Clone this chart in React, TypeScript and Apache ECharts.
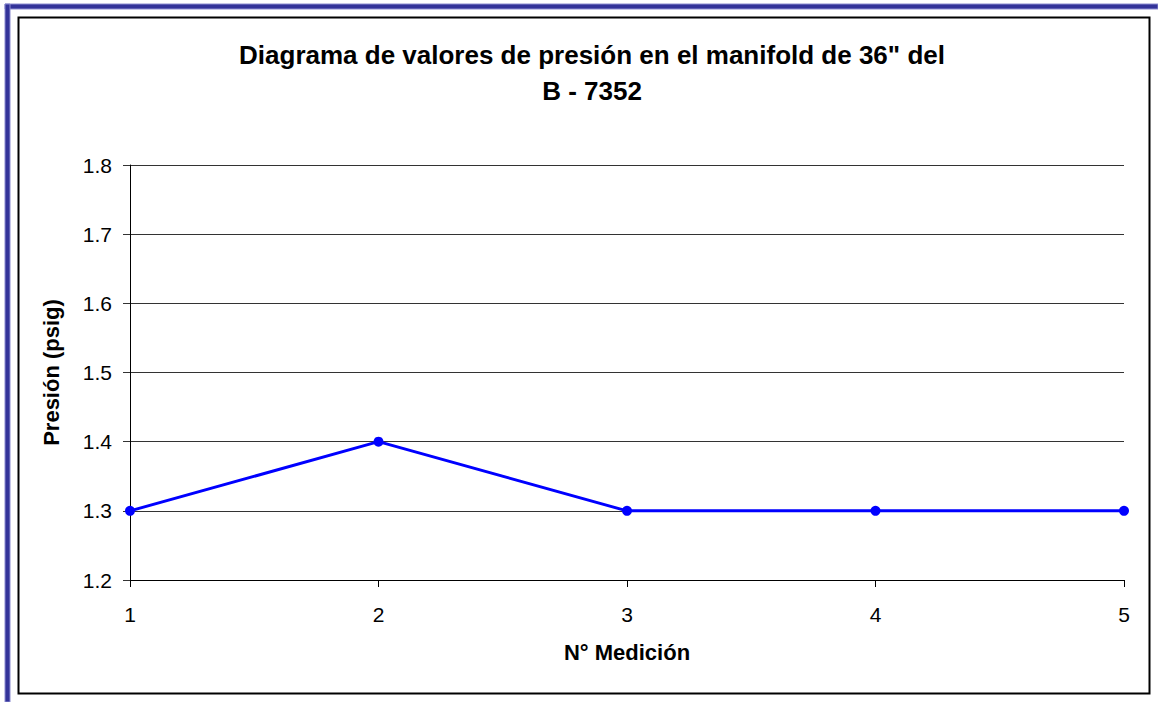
import React, { useEffect, useRef } from "react";
import * as echarts from "echarts";

const categories = ["1", "2", "3", "4", "5"];
const pressure = [1.3, 1.4, 1.3, 1.3, 1.3];
const yMin = 1.2;
const yMax = 1.8;
const yInterval = 0.1;

export default function App() {
  const ref = useRef<HTMLDivElement>(null);
  useEffect(() => {
    const chart = echarts.init(ref.current!, null, { renderer: "svg" });
    const font = "Liberation Sans, Arial, sans-serif";
    chart.setOption({
      animation: false,
      backgroundColor: "#ffffff",
      title: {
        text: 'Diagrama de valores de presión en el manifold de 36" del\nB - 7352',
        left: 587,
        top: 32,
        textAlign: "center",
        textStyle: {
          fontFamily: font,
          fontWeight: "bold",
          fontSize: 26,
          lineHeight: 36,
          color: "#000",
        },
      },
      graphic: [
        {
          type: "rect",
          shape: { x: 5, y: 4, width: 1153, height: 5 },
          style: { fill: "#333399", stroke: "#8c8cd0", lineWidth: 1 },
          z: 10,
        },
        {
          type: "rect",
          shape: { x: 5, y: 4, width: 5, height: 698 },
          style: { fill: "#333399", stroke: "#8c8cd0", lineWidth: 1 },
          z: 10,
        },
        {
          type: "rect",
          shape: { x: 18.5, y: 17.5, width: 1131, height: 676 },
          style: { fill: "none", stroke: "#000", lineWidth: 2 },
          z: 10,
        },
      ],
      grid: { left: 130, right: 34, top: 165, bottom: 122 },
      xAxis: {
        type: "category",
        data: categories,
        boundaryGap: false,
        name: "N° Medición",
        nameLocation: "middle",
        nameGap: 61,
        nameTextStyle: { fontFamily: font, fontWeight: "bold", fontSize: 22, color: "#000" },
        axisLine: { lineStyle: { color: "#000", width: 1 } },
        axisTick: { show: true, length: 7, inside: false, alignWithLabel: true, lineStyle: { color: "#000" } },
        axisLabel: { margin: 24, fontFamily: font, fontSize: 21, color: "#000" },
        splitLine: { show: false },
      },
      yAxis: {
        type: "value",
        min: yMin,
        max: yMax,
        interval: yInterval,
        name: "Presión (psig)",
        nameLocation: "middle",
        nameGap: 68,
        nameTextStyle: { fontFamily: font, fontWeight: "bold", fontSize: 22, color: "#000" },
        axisLine: { show: true, lineStyle: { color: "#000", width: 1 } },
        axisTick: { show: true, length: 7, lineStyle: { color: "#333" } },
        axisLabel: {
          margin: 18,
          fontFamily: font,
          fontSize: 21,
          color: "#000",
          formatter: (v: number) => v.toFixed(1),
        },
        splitLine: { show: true, lineStyle: { color: "#333", width: 1 } },
      },
      series: [
        {
          type: "line",
          data: pressure,
          symbol: "circle",
          symbolSize: 10,
          itemStyle: { color: "#0000ff" },
          lineStyle: { color: "#0000ff", width: 3 },
        },
      ],
    });
    return () => chart.dispose();
  }, []);
  return (
    <div
      ref={ref}
      style={{ position: "fixed", left: 0, top: 0, width: 1158, height: 702 }}
    />
  );
}
